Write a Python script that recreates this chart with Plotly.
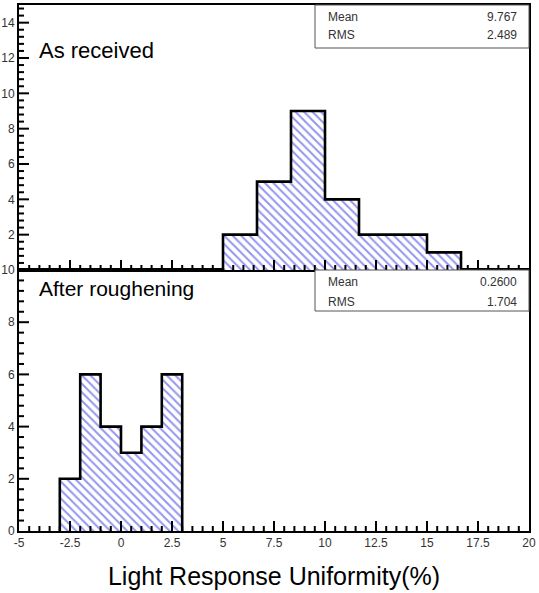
import plotly.graph_objects as go

# ---- data ----
upper_edges = [5.0, 6.6667, 8.3333, 10.0, 11.6667, 13.3333, 15.0, 16.6667]
upper_counts = [2, 5, 9, 4, 2, 2, 1]
lower_edges = [-3.0, -2.0, -1.0, 0.0, 1.0, 2.0, 3.0]
lower_counts = [2, 6, 4, 3, 4, 6]
upper_label = "As received"
lower_label = "After roughening"
stat_names = ["Mean", "RMS"]
upper_stats = ["9.767", "2.489"]
lower_stats = ["0.2600", "1.704"]
x_tickvals = [-5, -2.5, 0, 2.5, 5, 7.5, 10, 12.5, 15, 17.5, 20]
x_ticktext = ["-5", "-2.5", "0", "2.5", "5", "7.5", "10", "12.5", "15", "17.5", "20"]
upper_yticks = [2, 4, 6, 8, 10, 12, 14]
lower_yticks = [0, 2, 4, 6, 8, 10]
x_title = "Light Response Uniformity(%)"

W, H = 539, 593
L, R, T, B = 19, 10, 5, 62
PW, PH = W - L - R, H - T - B
split_px = 270


def px(x):
    return (x - L) / PW


def py(y):
    return (H - B - y) / PH


split = py(split_px)
XR = [-5, 20]
YR_LOW = [0, 10]
YR_UP = [0, 15.0]

HATCH = "#2a2ae0"
FONT = "Liberation Sans, Arial, sans-serif"
TICKC = "black"
TICKW = 2

low_h = PH * split
up_h = PH * (1 - split)
x_unit = PW / (XR[1] - XR[0])
ylow_unit = low_h / (YR_LOW[1] - YR_LOW[0])
yup_unit = up_h / (YR_UP[1] - YR_UP[0])


def hist_traces(edges, counts, xa, ya):
    centers = [(a + b) / 2 for a, b in zip(edges[:-1], edges[1:])]
    widths = [b - a for a, b in zip(edges[:-1], edges[1:])]
    bar = go.Bar(
        x=centers, y=counts, width=widths, xaxis=xa, yaxis=ya,
        marker=dict(color="white", line=dict(width=0),
                    pattern=dict(shape="\\", fgcolor=HATCH, bgcolor="white",
                                 size=6, solidity=0.33)),
        showlegend=False, hoverinfo="skip")
    sx, sy = [edges[0]], [0]
    for i, c in enumerate(counts):
        sx += [edges[i], edges[i + 1]]
        sy += [c, c]
    sx.append(edges[-1])
    sy.append(0)
    step = go.Scatter(x=sx, y=sy, mode="lines", xaxis=xa, yaxis=ya,
                      line=dict(color="black", width=2.6),
                      showlegend=False, hoverinfo="skip")
    return [bar, step]


def steps(lo, hi, step):
    n = int(round((hi - lo) / step))
    return [round(lo + i * step, 6) for i in range(n + 1)]


def xtick_trace(vals, majors, xa, ya, yunit):
    xs, ys = [], []
    for v in vals:
        ln = (10 if v in majors else 5) / yunit
        xs += [v, v, None]
        ys += [0, ln, None]
    return go.Scatter(x=xs, y=ys, mode="lines", xaxis=xa, yaxis=ya,
                      line=dict(color=TICKC, width=TICKW),
                      showlegend=False, hoverinfo="skip")


def ytick_trace(vals, majors, xa, ya):
    xs, ys = [], []
    for v in vals:
        ln = (10 if v in majors else 5) / x_unit
        xs += [XR[0], XR[0] + ln, None]
        ys += [v, v, None]
    return go.Scatter(x=xs, y=ys, mode="lines", xaxis=xa, yaxis=ya,
                      line=dict(color=TICKC, width=TICKW),
                      showlegend=False, hoverinfo="skip")


fig = go.Figure()
for t in hist_traces(lower_edges, lower_counts, "x", "y"):
    fig.add_trace(t)
for t in hist_traces(upper_edges, upper_counts, "x2", "y2"):
    fig.add_trace(t)

xt = steps(XR[0], XR[1], 0.5)[1:-1]
fig.add_trace(xtick_trace(xt, x_tickvals, "x", "y", ylow_unit))
fig.add_trace(xtick_trace(xt, x_tickvals, "x2", "y2", yup_unit))
fig.add_trace(ytick_trace(steps(0, 10, 0.4)[1:-1], lower_yticks, "x", "y"))
fig.add_trace(ytick_trace(steps(0, 14.8, 0.4)[1:], upper_yticks, "x2", "y2"))

tickfont = dict(family=FONT, size=12, color="#333")
xcommon = dict(range=XR, showgrid=False, zeroline=False, showline=True,
               linecolor="black", linewidth=2, mirror=True, ticks="",
               tickmode="array", tickvals=x_tickvals, ticktext=x_ticktext,
               automargin=False)
ycommon = dict(showgrid=False, zeroline=False, showline=True, linecolor="black",
               linewidth=2, mirror=True, ticks="", tickfont=tickfont,
               tickmode="array", automargin=False)

fig.update_layout(
    width=W, height=H, margin=dict(l=L, r=R, t=T, b=B),
    paper_bgcolor="white", plot_bgcolor="white", bargap=0,
    xaxis=dict(**xcommon, anchor="y", tickfont=tickfont,
               title=dict(text=x_title, standoff=18,
                          font=dict(family=FONT, size=25, color="black"))),
    xaxis2=dict(**xcommon, anchor="y2", matches="x", showticklabels=False),
    yaxis=dict(**ycommon, domain=[0, split], range=YR_LOW, tickvals=lower_yticks),
    yaxis2=dict(**ycommon, domain=[split, 1], range=YR_UP, tickvals=upper_yticks),
)

fig.add_annotation(text=upper_label, xref="paper", yref="paper", x=px(37), y=py(51),
                   xanchor="left", yanchor="middle", showarrow=False,
                   font=dict(family=FONT, size=22, color="black"))
fig.add_annotation(text=lower_label, xref="paper", yref="paper", x=px(37), y=py(288),
                   xanchor="left", yanchor="middle", showarrow=False,
                   font=dict(family=FONT, size=21, color="black"))

stat_font = dict(family=FONT, size=12, color="#333")
for top, bot, vals, rows in [(T, 48, upper_stats, (17, 35)),
                             (split_px, 311, lower_stats, (282, 302))]:
    fig.add_shape(type="rect", xref="paper", yref="paper", x0=px(315), x1=1,
                  y0=py(bot), y1=py(top), line=dict(color="#555", width=1),
                  fillcolor="white", layer="above")
    for name, val, ry in zip(stat_names, vals, rows):
        fig.add_annotation(text=name, xref="paper", yref="paper", x=px(326), y=py(ry),
                           xanchor="left", yanchor="middle", showarrow=False,
                           font=stat_font)
        fig.add_annotation(text=val, xref="paper", yref="paper", x=px(519), y=py(ry),
                           xanchor="right", yanchor="middle", showarrow=False,
                           font=stat_font)

fig.write_html("out.html")
